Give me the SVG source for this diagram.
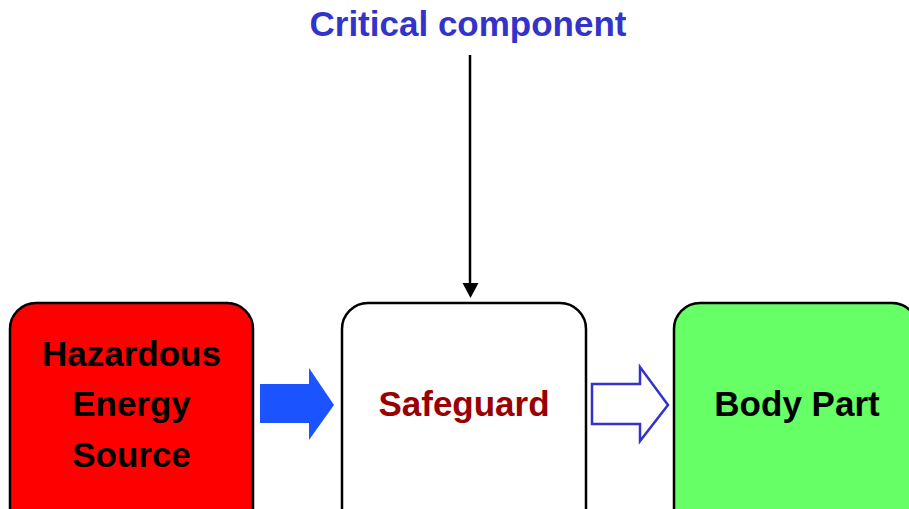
<svg xmlns="http://www.w3.org/2000/svg" width="909" height="509" viewBox="0 0 909 509">
<defs>
<style>
.box{stroke:#000;stroke-width:2.5}
.t{font-family:"Liberation Sans",Arial,sans-serif;font-weight:bold;font-size:35px;text-anchor:middle}
</style>
</defs>
<rect width="909" height="509" fill="#fff"/>
<text class="t" x="468" y="36" fill="#3333CC">Critical component</text>
<g id="connectors">
<line x1="470" y1="55" x2="470" y2="284" stroke="#000" stroke-width="2.5"/>
<path d="M462.5,283 L478.5,283 L470.5,298 Z" fill="#000"/>
<path d="M260,384 L309,384 L309,368 L334,405 L309,440 L309,423 L260,423 Z" fill="#1A53FF"/>
<path d="M592,384 L640,384 L640,367 L668,405 L640,441 L640,424 L592,424 Z" fill="#fff" stroke="#3333CC" stroke-width="2.5" stroke-linejoin="miter"/>
</g>
<g id="hazard">
<rect class="box" x="10" y="303" width="243" height="240" rx="26" fill="#FF0000"/>
<text class="t" x="131.5" y="366" fill="#000">Hazardous</text>
<text class="t" x="131.5" y="416" fill="#000">Energy</text>
<text class="t" x="131.5" y="467" fill="#000">Source</text>
</g>
<g id="safeguard">
<rect class="box" x="342" y="303" width="244" height="240" rx="26" fill="#fff"/>
<text class="t" x="464" y="416" fill="#990000">Safeguard</text>
</g>
<g id="body">
<rect class="box" x="674" y="303" width="244" height="240" rx="26" fill="#66FF66"/>
<text class="t" x="797" y="416" fill="#000">Body Part</text>
</g>
</svg>
